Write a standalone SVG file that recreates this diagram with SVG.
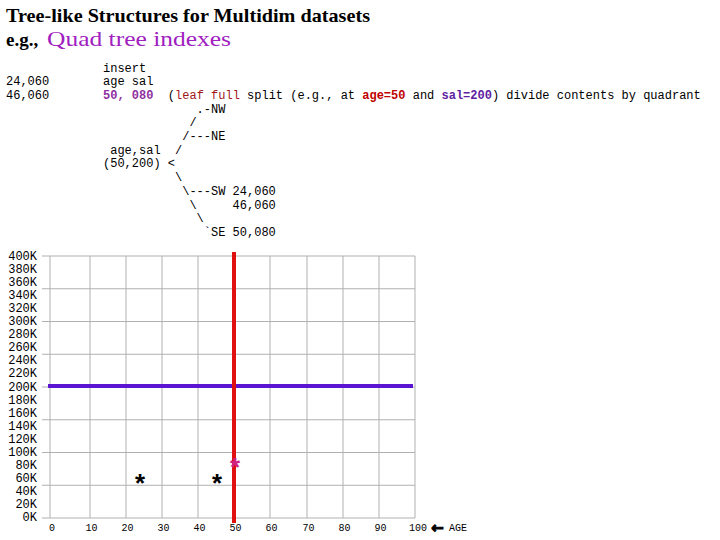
<svg xmlns="http://www.w3.org/2000/svg" width="720" height="540" viewBox="0 0 720 540">
<style>
.ttl{font-family:"Liberation Serif","Times New Roman",serif;font-weight:bold;font-size:19px;fill:#000}
.big{font-family:"Liberation Serif","Times New Roman",serif;font-size:22px;fill:#a020c0}
.m{font-family:"Liberation Mono","Courier New",monospace;font-size:12px;fill:#000;white-space:pre}
.ax{font-family:"Liberation Mono","Courier New",monospace;font-size:12px;fill:#000;text-anchor:end}
.xl{font-family:"Liberation Mono","Courier New",monospace;font-size:10px;fill:#000;text-anchor:middle}
.grid line{stroke:#b0b0b0;stroke-width:1}
.star{font-family:"Liberation Mono","Courier New",monospace;font-size:26px;font-weight:bold;text-anchor:middle}
</style>
<rect width="720" height="540" fill="#fff"/>
<g id="title">
<text class="ttl" x="6" y="22" textLength="364" lengthAdjust="spacingAndGlyphs">Tree-like Structures for Multidim datasets</text>
<text class="ttl" x="6" y="46">e.g.,</text>
<text class="big" x="47" y="46" textLength="184" lengthAdjust="spacingAndGlyphs">Quad tree indexes</text>
</g>
<g id="insert-text">
<text class="m" x="6" y="85.2">24,060</text>
<text class="m" x="6" y="98.9">46,060</text>
<text class="m" x="103" y="71.5">insert</text>
<text class="m" x="103" y="85.2">age sal</text>
<text class="m" x="103" y="98.9" xml:space="preserve"><tspan font-weight="bold" fill="#9030a0">50, 080</tspan>  (<tspan fill="#a01818">leaf full</tspan> split (e.g., at <tspan font-weight="bold" fill="#c00000">age=50</tspan> and <tspan font-weight="bold" fill="#6020a0">sal=200</tspan>) divide contents by quadrant</text>
</g>
<g id="tree-text">
<text class="m" x="196.6" y="112.6">.-NW</text>
<text class="m" x="189.4" y="126.3">/</text>
<text class="m" x="182.2" y="140">/---NE</text>
<text class="m" x="110.2" y="153.7">age,sal</text>
<text class="m" x="175" y="153.7">/</text>
<text class="m" x="103" y="167.4" xml:space="preserve">(50,200) &lt;</text>
<text class="m" x="175" y="181.1">\</text>
<text class="m" x="182.2" y="194.8" xml:space="preserve">\---SW 24,060</text>
<text class="m" x="189.4" y="208.5" xml:space="preserve">\     46,060</text>
<text class="m" x="196.6" y="222.2">\</text>
<text class="m" x="203.8" y="235.9" xml:space="preserve">`SE 50,080</text>
</g>
<g id="grid" class="grid">
<line x1="42" y1="256" x2="415" y2="256"/>
<line x1="42" y1="288.75" x2="415" y2="288.75"/>
<line x1="42" y1="321.5" x2="415" y2="321.5"/>
<line x1="42" y1="354.25" x2="415" y2="354.25"/>
<line x1="42" y1="387" x2="415" y2="387"/>
<line x1="42" y1="419.75" x2="415" y2="419.75"/>
<line x1="42" y1="452.5" x2="415" y2="452.5"/>
<line x1="42" y1="485.25" x2="415" y2="485.25"/>
<line x1="42" y1="518" x2="415" y2="518"/>
<line x1="50" y1="256" x2="50" y2="518"/>
<line x1="90" y1="256" x2="90" y2="518"/>
<line x1="126" y1="256" x2="126" y2="518"/>
<line x1="162" y1="256" x2="162" y2="518"/>
<line x1="198" y1="256" x2="198" y2="518"/>
<line x1="234" y1="256" x2="234" y2="518"/>
<line x1="270" y1="256" x2="270" y2="518"/>
<line x1="307" y1="256" x2="307" y2="518"/>
<line x1="343" y1="256" x2="343" y2="518"/>
<line x1="379" y1="256" x2="379" y2="518"/>
<line x1="415" y1="256" x2="415" y2="518"/>
</g>
<g id="y-labels">
<text class="ax" x="37" y="260">400K</text>
<text class="ax" x="37" y="273.05">380K</text>
<text class="ax" x="37" y="286.1">360K</text>
<text class="ax" x="37" y="299.15">340K</text>
<text class="ax" x="37" y="312.2">320K</text>
<text class="ax" x="37" y="325.25">300K</text>
<text class="ax" x="37" y="338.3">280K</text>
<text class="ax" x="37" y="351.35">260K</text>
<text class="ax" x="37" y="364.4">240K</text>
<text class="ax" x="37" y="377.45">220K</text>
<text class="ax" x="37" y="390.5">200K</text>
<text class="ax" x="37" y="403.55">180K</text>
<text class="ax" x="37" y="416.6">160K</text>
<text class="ax" x="37" y="429.65">140K</text>
<text class="ax" x="37" y="442.7">120K</text>
<text class="ax" x="37" y="455.75">100K</text>
<text class="ax" x="37" y="468.8">80K</text>
<text class="ax" x="37" y="481.85">60K</text>
<text class="ax" x="37" y="494.9">40K</text>
<text class="ax" x="37" y="507.95">20K</text>
<text class="ax" x="37" y="521">0K</text>
</g>
<g id="x-labels">
<text class="xl" x="52" y="531">0</text>
<text class="xl" x="91.5" y="531">10</text>
<text class="xl" x="127.5" y="531">20</text>
<text class="xl" x="163.5" y="531">30</text>
<text class="xl" x="199.5" y="531">40</text>
<text class="xl" x="235.5" y="531">50</text>
<text class="xl" x="271.5" y="531">60</text>
<text class="xl" x="308.5" y="531">70</text>
<text class="xl" x="344.5" y="531">80</text>
<text class="xl" x="380.5" y="531">90</text>
<text class="xl" x="418" y="531">100</text>
<text x="431" y="533" font-family="DejaVu Sans,sans-serif" font-size="15" font-weight="bold" stroke="#000" stroke-width="1">←</text>
<text x="449" y="531" font-family="Liberation Mono,monospace" font-size="10">AGE</text>
</g>
<g id="splits">
<line x1="48" y1="386" x2="413" y2="386" stroke="#5a14d2" stroke-width="4"/>
<line x1="234" y1="252" x2="234" y2="523" stroke="#e01010" stroke-width="4"/>
</g>
<g id="points">
<text class="star" x="140" y="493" fill="#000">*</text>
<text class="star" x="217" y="493" fill="#000">*</text>
<text class="star" x="235" y="477" fill="#d02080">*</text>
</g>
</svg>
